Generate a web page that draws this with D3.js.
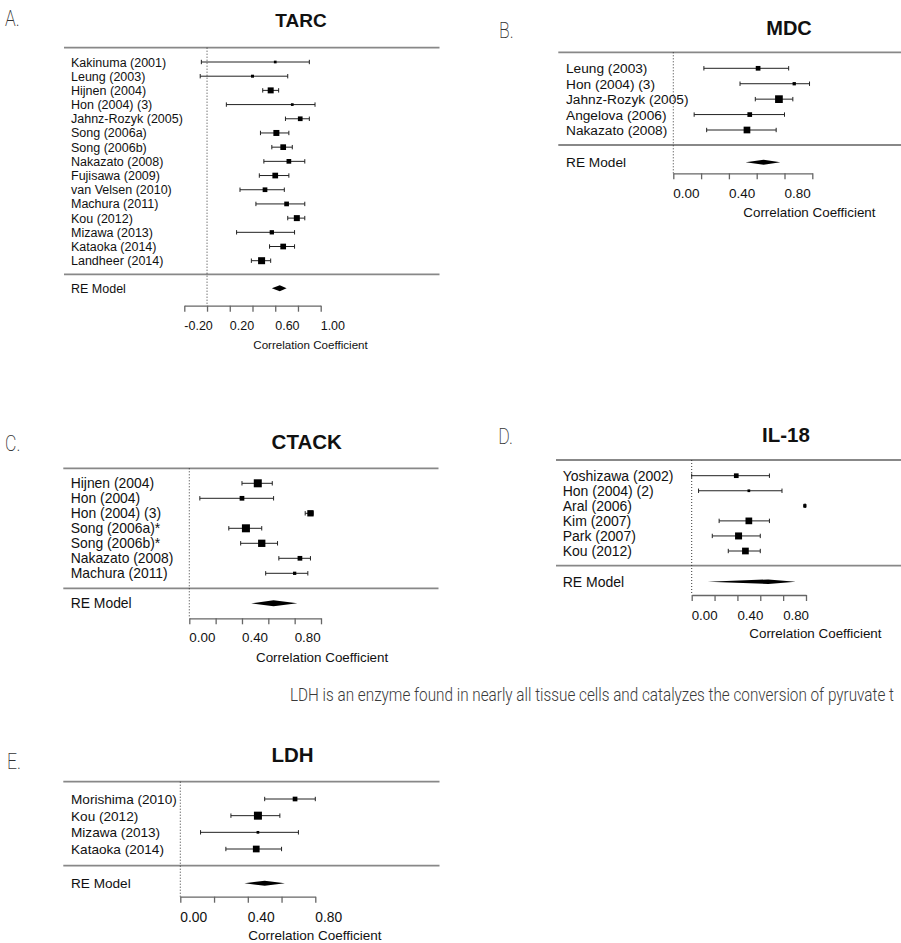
<!DOCTYPE html>
<html><head><meta charset="utf-8">
<script src="https://cdn.jsdelivr.net/npm/d3@7"></script>
<style>
body{margin:0;background:#fff}
svg{display:block}
</style></head><body>
<svg id="chart" width="901" height="943"></svg>
<script>
// ---- A. TARC ----
const tarcStudies = ["Kakinuma (2001)","Leung (2003)","Hijnen (2004)","Hon (2004) (3)","Jahnz-Rozyk (2005)","Song (2006a)","Song (2006b)","Nakazato (2008)","Fujisawa (2009)","van Velsen (2010)","Machura (2011)","Kou (2012)","Mizawa (2013)","Kataoka (2014)","Landheer (2014)"];
const tarcEst   = [0.60, 0.40, 0.56, 0.75, 0.82, 0.61, 0.67, 0.72, 0.60, 0.51, 0.70, 0.79, 0.57, 0.67, 0.48];
const tarcLower = [-0.05,-0.06,0.49, 0.17, 0.69, 0.47, 0.57, 0.50, 0.46, 0.29, 0.43, 0.71, 0.26, 0.55, 0.39];
const tarcUpper = [0.90, 0.71, 0.63, 0.95, 0.90, 0.72, 0.75, 0.86, 0.72, 0.68, 0.86, 0.86, 0.77, 0.77, 0.56];
const tarcWeights = [1.9, 2.3, 9.3, 1.9, 5.7, 9.3, 8.4, 5.7, 8.4, 5.7, 5.7, 9.3, 4.8, 8.4, 12.7];
const tarcSummary = [0.57, 0.64, 0.70]; // lower, estimate, upper
const tarcTicks = [-0.2, 0, 0.2, 0.4, 0.6, 0.8, 1.0];
const tarcTickLabels = ["-0.20", "", "0.20", "", "0.60", "", "1.00"];

// ---- B. MDC ----
const mdcStudies = ["Leung (2003)","Hon (2004) (3)","Jahnz-Rozyk (2005)","Angelova (2006)","Nakazato (2008)"];
const mdcEst   = [0.61, 0.87, 0.76, 0.55, 0.53];
const mdcLower = [0.22, 0.48, 0.59, 0.15, 0.24];
const mdcUpper = [0.83, 0.98, 0.86, 0.80, 0.74];
const mdcWeights = [13.8, 6.9, 37.3, 13.8, 28.2];
const mdcSummary = [0.52, 0.65, 0.77];
const mdcTicks = [0, 0.2, 0.4, 0.6, 0.8, 1.0];
const mdcTickLabels = ["0.00", "", "0.40", "", "0.80", ""];

// ---- C. CTACK ----
const ctackStudies = ["Hijnen (2004)","Hon (2004)","Hon (2004) (3)","Song (2006a)*","Song (2006b)*","Nakazato (2008)","Machura (2011)"];
const ctackEst   = [0.52, 0.40, 0.92, 0.43, 0.55, 0.84, 0.80];
const ctackLower = [0.40, 0.08, 0.88, 0.30, 0.39, 0.68, 0.58];
const ctackUpper = [0.63, 0.64, 0.94, 0.55, 0.67, 0.92, 0.90];
const ctackWeights = [23.2, 8.0, 14.5, 23.2, 19.3, 8.0, 3.9];
const ctackSummary = [0.47, 0.64, 0.82];
const ctackTicks = [0, 0.2, 0.4, 0.6, 0.8, 1.0];
const ctackTickLabels = ["0.00", "", "0.40", "", "0.80", ""];

// ---- D. IL-18 ----
const il18Studies = ["Yoshizawa (2002)","Hon (2004) (2)","Aral (2006)","Kim (2007)","Park (2007)","Kou (2012)"];
const il18Est   = [0.39, 0.50, 0.99, 0.50, 0.41, 0.47];
const il18Lower = [0.00, 0.06, 0.985, 0.24, 0.18, 0.32];
const il18Upper = [0.68, 0.79, 0.995, 0.68, 0.60, 0.60];
const il18Weights = [12.3, 4.1, 6.1, 25.1, 27.4, 25.1];
const il18Summary = [0.14, 0.67, 0.91];
const il18Ticks = [0, 0.2, 0.4, 0.6, 0.8, 1.0];
const il18TickLabels = ["0.00", "", "0.40", "", "0.80", ""];

// ---- E. LDH ----
const ldhStudies = ["Morishima (2010)","Kou (2012)","Mizawa (2013)","Kataoka (2014)"];
const ldhEst   = [0.68, 0.46, 0.46, 0.45];
const ldhLower = [0.50, 0.30, 0.12, 0.27];
const ldhUpper = [0.80, 0.59, 0.70, 0.60];
const ldhWeights = [15.9, 46.3, 5.3, 32.5];
const ldhSummary = [0.38, 0.50, 0.62];
const ldhTicks = [0, 0.2, 0.4, 0.6, 0.8];
const ldhTickLabels = ["0.00", "", "0.40", "", "0.80"];

const noteText = "LDH is an enzyme found in nearly all tissue cells and catalyzes the conversion of pyruvate t";

const SANS = "'Liberation Sans', Arial, Helvetica, sans-serif";
const THIN = "Roboto, 'Open Sans', sans-serif";
const svg = d3.select("#chart");

function table(names, est, lo, hi, w) {
  return names.map((n, i) => ({name: n, est: est[i], lo: lo[i], hi: hi[i], w: w[i]}));
}

function forest(p) {
  const g = svg.append("g");
  const x = d3.scaleLinear().domain(p.domain).range(p.range);
  const y = d3.scalePoint().domain(p.rows.map(d => d.name)).range([p.firstRow, p.lastRow]);
  const box = d3.scaleSqrt().domain([0, d3.max(p.rows, d => d.w)]).range([0, p.maxBox]);

  // panel letter
  g.append("text")
    .attr("transform", `translate(${p.letterX},${p.letterY}) scale(0.8,1)`)
    .attr("font-family", THIN).attr("font-weight", 200)
    .attr("font-size", 22).attr("fill", "#333").text(p.letter);

  // title
  g.append("text").attr("x", p.titleX).attr("y", p.titleY)
    .attr("text-anchor", "middle").attr("font-family", SANS)
    .attr("font-weight", "bold").attr("font-size", p.titleSize)
    .attr("fill", "#111").text(p.title);

  // horizontal rules
  [p.topLine, p.sepLine].forEach(yy => {
    g.append("line").attr("x1", p.lineX1).attr("x2", p.lineX2)
      .attr("y1", yy).attr("y2", yy)
      .attr("stroke", "#888").attr("stroke-width", 1.8);
  });

  // reference line at zero
  g.append("line").attr("x1", x(0)).attr("x2", x(0))
    .attr("y1", p.topLine).attr("y2", p.axisY)
    .attr("stroke", "#222").attr("stroke-width", 0.9)
    .attr("stroke-dasharray", "1,2");

  // study labels
  g.selectAll("text.lab").data(p.rows).join("text")
    .attr("x", p.labelX).attr("y", d => y(d.name)).attr("dy", "0.36em")
    .attr("font-family", SANS).attr("font-size", p.labelSize)
    .attr("fill", "#111").text(d => d.name);

  // confidence intervals with caps
  const ci = g.selectAll("g.ci").data(p.rows).join("g")
    .attr("stroke", "#222").attr("stroke-width", 1);
  ci.append("line").attr("x1", d => x(d.lo)).attr("x2", d => x(d.hi))
    .attr("y1", d => y(d.name)).attr("y2", d => y(d.name));
  ci.append("line").attr("x1", d => x(d.lo)).attr("x2", d => x(d.lo))
    .attr("y1", d => y(d.name) - 2.2).attr("y2", d => y(d.name) + 2.2);
  ci.append("line").attr("x1", d => x(d.hi)).attr("x2", d => x(d.hi))
    .attr("y1", d => y(d.name) - 2.2).attr("y2", d => y(d.name) + 2.2);

  // weighted point estimates
  g.selectAll("rect.pt").data(p.rows).join("rect")
    .attr("x", d => x(d.est) - box(d.w) / 2)
    .attr("y", d => y(d.name) - box(d.w) / 2)
    .attr("width", d => box(d.w)).attr("height", d => box(d.w))
    .attr("fill", "#000");

  // random-effects summary
  g.append("text").attr("x", p.labelX).attr("y", p.reY).attr("dy", "0.36em")
    .attr("font-family", SANS).attr("font-size", p.labelSize)
    .attr("fill", "#111").text("RE Model");
  const [slo, sest, shi] = p.summary;
  g.append("polygon")
    .attr("points", [[x(slo), p.reY], [x(sest), p.reY - p.dh], [x(shi), p.reY], [x(sest), p.reY + p.dh]]
      .map(q => q.join(",")).join(" "))
    .attr("fill", "#000");

  // x axis
  const ax = g.append("g").attr("transform", `translate(0,${p.axisY})`)
    .call(d3.axisBottom(x).tickValues(p.ticks).tickSize(6).tickSizeOuter(0).tickFormat(""));
  ax.select(".domain").attr("stroke", "#666").attr("stroke-width", 1.3);
  ax.selectAll(".tick line").attr("stroke", "#666").attr("stroke-width", 1.3);

  g.selectAll("text.tl").data(p.ticks.map((t, i) => ({t, s: p.tickLabels[i]})).filter(d => d.s))
    .join("text")
    .attr("x", d => x(d.t)).attr("y", p.tickLabelY)
    .attr("font-family", SANS).attr("font-size", p.tickSize)
    .attr("fill", "#111").text(d => d.s);

  g.append("text").attr("x", p.xlabX).attr("y", p.xlabY)
    .attr("font-family", SANS).attr("font-size", p.xlabSize)
    .attr("fill", "#111").text("Correlation Coefficient");
}

forest({
  letter: "A.", letterX: 5, letterY: 26,
  title: "TARC", titleX: 301, titleY: 27, titleSize: 19,
  rows: table(tarcStudies, tarcEst, tarcLower, tarcUpper, tarcWeights),
  summary: tarcSummary, ticks: tarcTicks, tickLabels: tarcTickLabels,
  domain: [-0.2, 1.0], range: [184.3, 320.7],
  lineX1: 64, lineX2: 439.5, topLine: 47.7, sepLine: 274.3,
  labelX: 71, labelSize: 12.5, firstRow: 62, lastRow: 260.7,
  maxBox: 7, reY: 288.3, dh: 3,
  axisY: 305.7, tickLabelY: 330.3, tickSize: 12.5,
  xlabX: 253.3, xlabY: 348.5, xlabSize: 11.6
});

forest({
  letter: "B.", letterX: 499, letterY: 38,
  title: "MDC", titleX: 789, titleY: 35, titleSize: 20,
  rows: table(mdcStudies, mdcEst, mdcLower, mdcUpper, mdcWeights),
  summary: mdcSummary, ticks: mdcTicks, tickLabels: mdcTickLabels,
  domain: [0, 1.0], range: [673.3, 812.3],
  lineX1: 558.3, lineX2: 901, topLine: 52.3, sepLine: 145,
  labelX: 566, labelSize: 13.7, firstRow: 68.3, lastRow: 130,
  maxBox: 7.7, reY: 162.3, dh: 2.5,
  axisY: 173.3, tickLabelY: 198, tickSize: 13.5,
  xlabX: 743.3, xlabY: 217, xlabSize: 13.4
});

forest({
  letter: "C.", letterX: 5, letterY: 451,
  title: "CTACK", titleX: 306.7, titleY: 449, titleSize: 20.5,
  rows: table(ctackStudies, ctackEst, ctackLower, ctackUpper, ctackWeights),
  summary: ctackSummary, ticks: ctackTicks, tickLabels: ctackTickLabels,
  domain: [0, 1.0], range: [189.3, 321],
  lineX1: 63.3, lineX2: 438.5, topLine: 468.3, sepLine: 588.3,
  labelX: 70.7, labelSize: 13.9, firstRow: 483.3, lastRow: 573.3,
  maxBox: 8, reY: 603.3, dh: 3,
  axisY: 618.3, tickLabelY: 641.5, tickSize: 13.4,
  xlabX: 256, xlabY: 661.5, xlabSize: 13.4
});

forest({
  letter: "D.", letterX: 498.3, letterY: 444,
  title: "IL-18", titleX: 786, titleY: 442, titleSize: 20.5,
  rows: table(il18Studies, il18Est, il18Lower, il18Upper, il18Weights),
  summary: il18Summary, ticks: il18Ticks, tickLabels: il18TickLabels,
  domain: [0, 1.0], range: [691.7, 806],
  lineX1: 556, lineX2: 901, topLine: 460, sepLine: 565.7,
  labelX: 562.7, labelSize: 14, firstRow: 475.7, lastRow: 551,
  maxBox: 7, reY: 581.7, dh: 2.3,
  axisY: 595, tickLabelY: 620, tickSize: 13.3,
  xlabX: 749.3, xlabY: 638, xlabSize: 13.4
});

forest({
  letter: "E.", letterX: 7, letterY: 769,
  title: "LDH", titleX: 292.5, titleY: 762, titleSize: 20.5,
  rows: table(ldhStudies, ldhEst, ldhLower, ldhUpper, ldhWeights),
  summary: ldhSummary, ticks: ldhTicks, tickLabels: ldhTickLabels,
  domain: [0, 0.8], range: [180.3, 315.3],
  lineX1: 63.3, lineX2: 439.5, topLine: 781.7, sepLine: 865.7,
  labelX: 71, labelSize: 13.6, firstRow: 799, lastRow: 849,
  maxBox: 8, reY: 883.3, dh: 2.5,
  axisY: 896.7, tickLabelY: 921.5, tickSize: 13.8,
  xlabX: 248.3, xlabY: 939.5, xlabSize: 13.5
});

// running text between the panels, condensed to fit the row
svg.append("text")
  .attr("x", 290).attr("y", 701)
  .attr("font-family", THIN).attr("font-weight", 300)
  .attr("font-size", 18).attr("fill", "#3a3a3a")
  .attr("textLength", 604).attr("lengthAdjust", "spacingAndGlyphs")
  .text(noteText);
</script>
</body></html>
